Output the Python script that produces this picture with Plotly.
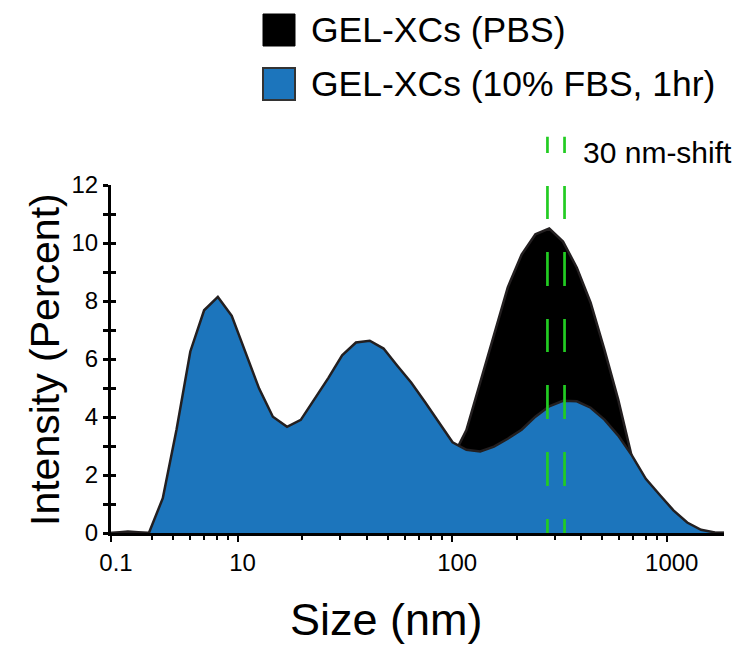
import math
import plotly.graph_objects as go

# ---------------- data ----------------
sizes_nm = [2.57, 3.08, 3.86, 4.48, 5.19, 6.02, 6.98, 8.09, 9.39, 10.9,
            12.6, 14.6, 17.0, 19.7, 22.8, 26.5, 30.7, 35.6, 41.3, 47.9,
            55.5, 64.4, 74.7, 86.6, 100.4, 116.5, 135.1, 156.6, 181.6, 210.7,
            244.3, 283.4, 328.6, 381.1, 441.9, 512.5, 594.2, 689.0, 799.1, 926.7,
            1075, 1246, 1445, 1676, 1943]

intensity_fbs = [0.0, 0.05, 0.0, 1.2, 3.56, 6.26, 7.68, 8.14, 7.49, 6.19,
                 4.98, 4.01, 3.66, 3.90, 4.6, 5.35, 6.13, 6.57, 6.63, 6.36,
                 5.77, 5.19, 4.52, 3.84, 3.13, 2.87, 2.81, 2.98, 3.25, 3.56,
                 4.01, 4.37, 4.56, 4.54, 4.32, 3.91, 3.36, 2.67, 1.87, 1.32,
                 0.78, 0.36, 0.11, 0.02, 0.0]

intensity_pbs = [0.0, 0.0, 0.0, 0.0, 0.0, 0.0, 0.0, 0.0, 0.0, 0.0,
                 0.0, 0.0, 0.0, 0.0, 0.0, 0.0, 0.0, 0.0, 0.0, 0.0,
                 0.0, 0.2, 0.7, 1.5, 2.6, 3.55, 5.19, 6.83, 8.47, 9.6,
                 10.3, 10.5, 10.05, 9.15, 7.94, 6.32, 4.6, 2.6, 1.0, 0.3,
                 0.0, 0.0, 0.0, 0.0, 0.0]

series_names = ["GEL-XCs (PBS)", "GEL-XCs (10% FBS, 1hr)"]

x_range_nm = [2.57, 1849]
x_tick_vals = [2.57, 10, 100, 1000]
x_tick_labels = ["0.1", "10", "100", "1000"]
x_minor_vals = [4, 5, 6, 7, 8, 9, 20, 30, 40, 50, 60, 70, 80, 90,
                200, 300, 400, 500, 600, 700, 800, 900]
y_range = [0, 12]
y_tick_vals = [0, 2, 4, 6, 8, 10, 12]
y_tick_labels = ["0", "2", "4", "6", "8", "10", "12"]
y_minor_vals = [1, 3, 5, 7, 9, 11]

shift_lines_nm = [278, 334]
shift_label = "30 nm-shift"
x_title = "Size (nm)"
y_title = "Intensity (Percent)"

# ---------------- styles ----------------
FONT = "Liberation Sans, Arial, sans-serif"
BLUE = "#1c75bc"
OUTLINE = "#231f20"
GREEN = "#22cc22"

# the page body has an 8px default margin, so the figure is 8px smaller
PAGE_OFF = 8
W, H = 744 - PAGE_OFF, 649 - PAGE_OFF
PLOT_L, PLOT_R, PLOT_T, PLOT_B = 111, 724, 185, 533  # page pixels

fig = go.Figure()

fig.add_trace(go.Scatter(
    x=sizes_nm, y=intensity_pbs, mode="lines", fill="tozeroy",
    fillcolor="#000000", line=dict(color=OUTLINE, width=2.5),
    name=series_names[0], showlegend=False, hoverinfo="skip"))

fig.add_trace(go.Scatter(
    x=sizes_nm, y=intensity_fbs, mode="lines", fill="tozeroy",
    fillcolor=BLUE, line=dict(color=OUTLINE, width=2.5),
    name=series_names[1], showlegend=False, hoverinfo="skip"))

# empty trace so the overlaying y axis (inside half of the crossing ticks) is drawn
fig.add_trace(go.Scatter(x=[], y=[], yaxis="y2", showlegend=False,
                         hoverinfo="skip"))

fig.update_layout(
    width=W, height=H,
    margin=dict(l=PLOT_L - PAGE_OFF, r=W - (PLOT_R - PAGE_OFF),
                t=PLOT_T - PAGE_OFF, b=H - (PLOT_B - PAGE_OFF), pad=0),
    paper_bgcolor="white", plot_bgcolor="white",
    font=dict(family=FONT, color="black"),
    showlegend=False,
    xaxis=dict(
        type="log",
        range=[math.log10(x_range_nm[0]), math.log10(x_range_nm[1])],
        tickmode="array", tickvals=x_tick_vals, ticktext=x_tick_labels,
        ticks="outside", ticklen=6, tickwidth=2, tickcolor="black",
        minor=dict(tickmode="array", tickvals=x_minor_vals, ticks="outside",
                   ticklen=4, tickwidth=2, tickcolor="black", showgrid=False),
        showline=True, linecolor="black", linewidth=2.5,
        showgrid=False, zeroline=False,
        tickfont=dict(size=24, family=FONT, color="black"),
        ticklabelshift=5,
    ),
    yaxis=dict(
        range=y_range,
        tickmode="array", tickvals=y_tick_vals, ticktext=y_tick_labels,
        ticks="outside", ticklen=5, tickwidth=2.5, tickcolor="black",
        minor=dict(tickmode="array", tickvals=y_minor_vals, ticks="outside",
                   ticklen=5, tickwidth=2.5, tickcolor="black", showgrid=False),
        showline=True, linecolor="black", linewidth=3,
        showgrid=False, zeroline=False,
        tickfont=dict(size=24, family=FONT, color="black"),
    ),
    yaxis2=dict(
        overlaying="y", anchor="x", side="left",
        range=y_range,
        tickmode="array", tickvals=y_tick_vals + y_minor_vals,
        ticks="inside", ticklen=5, tickwidth=2.5, tickcolor="black",
        showticklabels=False, showline=False, showgrid=False, zeroline=False,
    ),
)


def px_x(x):
    return (x - PLOT_L) / float(PLOT_R - PLOT_L)


def px_y(y):
    return (PLOT_B - y) / float(PLOT_B - PLOT_T)


shapes = []
dash_pat = "14px,33px,34px,33px,34px,33px,33px,33px,34px,33px,33px,33px,17px,40px"
for v in shift_lines_nm:
    shapes.append(dict(type="line", xref="x", yref="paper",
                       x0=v, x1=v, y0=0, y1=px_y(136.7),
                       line=dict(color=GREEN, width=2.7, dash=dash_pat),
                       layer="above"))

# custom legend swatches
shapes.append(dict(type="rect", xref="paper", yref="paper",
                   x0=px_x(263), x1=px_x(295), y0=px_y(46), y1=px_y(14),
                   fillcolor="#000000", line=dict(color="#000000", width=1)))
shapes.append(dict(type="rect", xref="paper", yref="paper",
                   x0=px_x(263), x1=px_x(295), y0=px_y(100), y1=px_y(68),
                   fillcolor=BLUE, line=dict(color="#333333", width=2)))
fig.update_layout(shapes=shapes)

annotations = [
    dict(text=series_names[0], xref="paper", yref="paper",
         x=px_x(309), y=px_y(30), xanchor="left", yanchor="middle",
         showarrow=False, font=dict(size=35.5, family=FONT, color="black")),
    dict(text=series_names[1], xref="paper", yref="paper",
         x=px_x(309), y=px_y(84), xanchor="left", yanchor="middle",
         showarrow=False, font=dict(size=35.5, family=FONT, color="black")),
    dict(text=shift_label, xref="paper", yref="paper",
         x=px_x(581), y=px_y(152), xanchor="left", yanchor="middle",
         showarrow=False, font=dict(size=30, family=FONT, color="black")),
    dict(text=x_title, xref="paper", yref="paper",
         x=px_x(386), y=px_y(619), xanchor="center", yanchor="middle",
         showarrow=False, font=dict(size=45, family=FONT, color="black")),
    dict(text=y_title, xref="paper", yref="paper", textangle=-90,
         x=px_x(45), y=px_y(360), xanchor="center", yanchor="middle",
         showarrow=False, font=dict(size=41, family=FONT, color="black")),
]
fig.update_layout(annotations=annotations)

fig.write_html("out.html")
